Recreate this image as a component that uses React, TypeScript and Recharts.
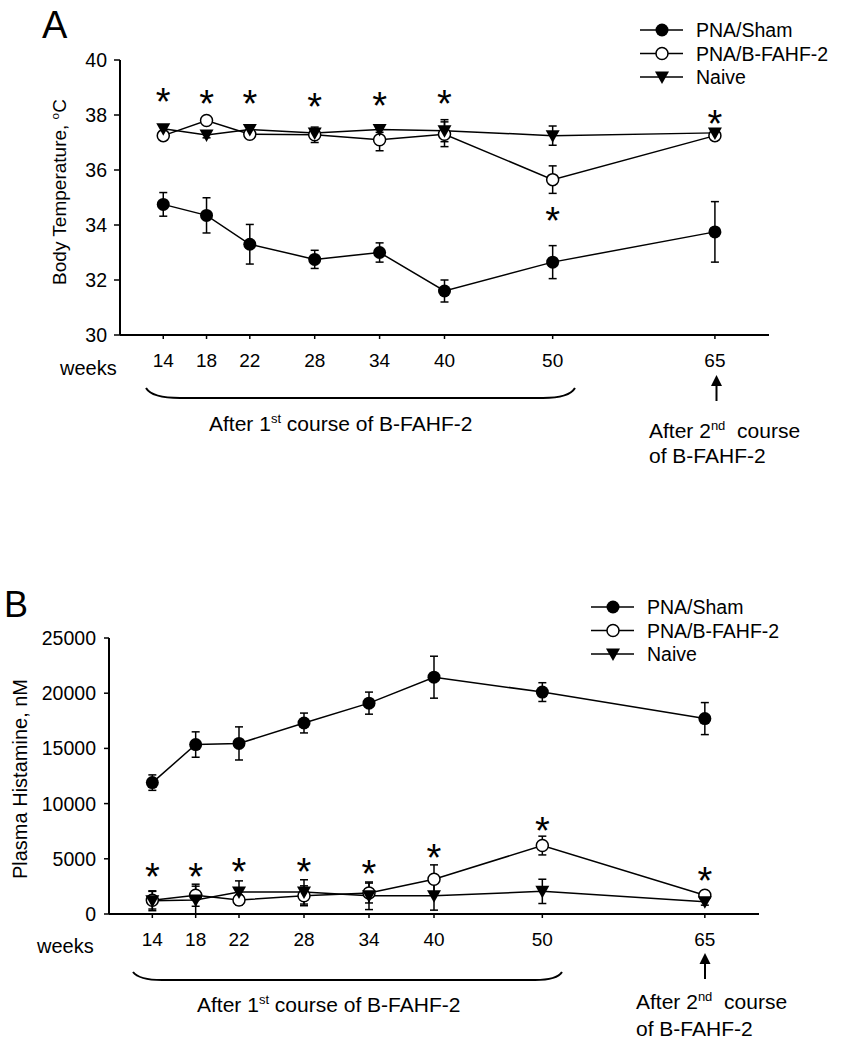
import React from "react";
import { ComposedChart, Line, XAxis, YAxis, ErrorBar } from "recharts";

// sampling weeks
const WEEKS = [14, 18, 22, 28, 34, 40, 50, 65];

// panel A - body temperature (oC)
const tempSham = [34.75, 34.35, 33.3, 32.75, 33.0, 31.6, 32.65, 33.75];
const tempShamErr = [0.43, 0.64, 0.72, 0.33, 0.35, 0.4, 0.6, 1.1];
const tempVacc = [37.25, 37.8, 37.3, 37.28, 37.1, 37.3, 35.65, 37.25];
const tempVaccErr = [0.15, 0.1, 0.1, 0.28, 0.4, 0.45, 0.5, 0.1];
const tempNaive = [37.5, 37.27, 37.47, 37.35, 37.47, 37.43, 37.25, 37.35];
const tempNaiveErr = [0.1, 0.1, 0.1, 0.1, 0.1, 0.4, 0.35, 0.1];
const tempStars = [38.8, 38.73, 38.73, 38.62, 38.65, 38.73, 34.47, 38.0];
const tempTicks = [30, 32, 34, 36, 38, 40];

// panel B - plasma histamine (nM)
const histSham = [11900, 15350, 15450, 17300, 19100, 21450, 20100, 17700];
const histShamErr = [700, 1150, 1500, 900, 1000, 1900, 850, 1450];
const histVacc = [1250, 1700, 1270, 1650, 1900, 3150, 6200, 1700];
const histVaccErr = [800, 1000, 450, 900, 900, 1300, 850, 300];
const histNaive = [1200, 1270, 2000, 2000, 1650, 1650, 2050, 1100];
const histNaiveErr = [900, 1250, 1000, 1100, 1250, 1300, 1100, 300];
const histStars = [4170, 4200, 4620, 4620, 4440, 5890, 8360, 3830];
const histTicks = [0, 5000, 10000, 15000, 20000, 25000];

const SERIES = [
  { key: "sham", name: "PNA/Sham", kind: "filled" },
  { key: "vacc", name: "PNA/B-FAHF-2", kind: "open" },
  { key: "naive", name: "Naive", kind: "triangle" },
];

const FONT = "Arial, 'Liberation Sans', Helvetica, sans-serif";

const buildRows = (
  sham: number[], shamErr: number[],
  vacc: number[], vaccErr: number[],
  naive: number[], naiveErr: number[],
  stars: number[]
) =>
  WEEKS.map((week, i) => ({
    week,
    sham: sham[i], shamErr: shamErr[i],
    vacc: vacc[i], vaccErr: vaccErr[i],
    naive: naive[i], naiveErr: naiveErr[i],
    star: stars[i],
  }));

const rowsA = buildRows(tempSham, tempShamErr, tempVacc, tempVaccErr, tempNaive, tempNaiveErr, tempStars);
const rowsB = buildRows(histSham, histShamErr, histVacc, histVaccErr, histNaive, histNaiveErr, histStars);

const marker = (kind: string, cx: number, cy: number, key?: string) => {
  if (kind === "filled") return <circle key={key} cx={cx} cy={cy} r={6.5} fill="#000" />;
  if (kind === "open")
    return <circle key={key} cx={cx} cy={cy} r={6} fill="#fff" stroke="#000" strokeWidth={1.5} />;
  return (
    <polygon
      key={key}
      points={`${cx - 7},${cy - 5.5} ${cx + 7},${cy - 5.5} ${cx},${cy + 7}`}
      fill="#000"
    />
  );
};

const dotFor = (kind: string) => (props: any) => {
  const { cx, cy, index } = props;
  if (cx == null || cy == null) return <g key={`${kind}-${index}`} />;
  return marker(kind, cx, cy, `${kind}-${index}`);
};

const starDot = (props: any) => {
  const { cx, cy, index } = props;
  if (cx == null || cy == null) return <g key={`s-${index}`} />;
  return (
    <text key={`s-${index}`} x={cx} y={cy + 22} textAnchor="middle" fontSize={38} fontFamily={FONT} fill="#000">
      *
    </text>
  );
};

// legend drawn as plain svg: line x-range, marker centre, text start, first row centre
const LegendSvg = ({ x, y }: { x: number; y: number }) => (
  <g>
    {SERIES.map((s, i) => {
      const cy = y + i * 23.5;
      return (
        <g key={s.key}>
          <line x1={x} y1={cy} x2={x + 43} y2={cy} stroke="#000" strokeWidth={1.5} />
          {marker(s.kind, x + 22, cy)}
          <text x={x + 56} y={cy + 7} fontSize={19.5}>
            {s.name}
          </text>
        </g>
      );
    })}
  </g>
);

interface PanelProps {
  rows: any[];
  top: number;
  height: number;
  margin: { top: number; right: number; bottom: number; left: number };
  yDomain: [number, number];
  yTicks: number[];
  yTickSize: number;
  yTickMargin: number;
}

const Panel: React.FC<PanelProps> = ({ rows, top, height, margin, yDomain, yTicks, yTickSize, yTickMargin }) => (
  <div style={{ position: "absolute", left: 0, top, width: 841, height }}>
    <ComposedChart width={841} height={height} data={rows} margin={margin}>
      <XAxis
        type="number"
        dataKey="week"
        domain={[10, 70]}
        ticks={WEEKS}
        allowDataOverflow
        tickSize={4}
        tickMargin={15}
        axisLine={{ stroke: "#000", strokeWidth: 2 }}
        tickLine={{ stroke: "#000", strokeWidth: 1.5 }}
        tick={{ fill: "#000", fontSize: 19, fontFamily: FONT }}
      />
      <YAxis
        width={60}
        domain={yDomain}
        ticks={yTicks}
        allowDataOverflow
        tickSize={yTickSize}
        tickMargin={yTickMargin}
        axisLine={{ stroke: "#000", strokeWidth: 2 }}
        tickLine={{ stroke: "#000", strokeWidth: 1.5 }}
        tick={{ fill: "#000", fontSize: 19.5, fontFamily: FONT }}
      />
      {SERIES.map((s) => (
        <Line
          key={s.key}
          dataKey={s.key}
          name={s.name}
          stroke="#000"
          strokeWidth={1.5}
          dot={dotFor(s.kind)}
          activeDot={false}
          isAnimationActive={false}
        >
          <ErrorBar dataKey={`${s.key}Err`} direction="y" width={4} stroke="#000" strokeWidth={1.5} />
        </Line>
      ))}
      <Line
        dataKey="star"
        stroke="none"
        legendType="none"
        dot={starDot}
        activeDot={false}
        isAnimationActive={false}
      />
    </ComposedChart>
  </div>
);

const Sup = ({ text, size }: { text: string; size: number }) => (
  <tspan fontSize={size * 0.62} dy={-size * 0.38}>
    {text}
  </tspan>
);

const Annotations = () => (
  <svg
    width={841}
    height={1050}
    style={{ position: "absolute", left: 0, top: 0, pointerEvents: "none" }}
    fontFamily={FONT}
    fill="#000"
  >
    {/* panel A */}
    <text x={42} y={38} fontSize={38}>A</text>
    <LegendSvg x={640} y={30} />
    <text x={66} y={192} fontSize={19} textAnchor="middle" transform="rotate(-90 66 192)">
      Body Temperature,{" "}
      <Sup text="o" size={19} />
      <tspan dy={19 * 0.38}>C</tspan>
    </text>
    <text x={60} y={375} fontSize={20}>weeks</text>
    <path d="M146,388 Q152,398 180,398 L543,398 Q569,398 575,388" fill="none" stroke="#000" strokeWidth={2} />
    <text x={209} y={431} fontSize={21}>
      After 1<Sup text="st" size={21} />
      <tspan dy={21 * 0.38}> course of B-FAHF-2</tspan>
    </text>
    <line x1={716.5} y1={401} x2={716.5} y2={384} stroke="#000" strokeWidth={2} />
    <polygon points="716.5,375 711,386 722,386" fill="#000" />
    <text x={649} y={438} fontSize={21}>
      After 2<Sup text="nd" size={21} />
      <tspan dy={21 * 0.38}>{"\u00a0 course"}</tspan>
    </text>
    <text x={649} y={463} fontSize={21}>of B-FAHF-2</text>

    {/* panel B */}
    <text x={4} y={617} fontSize={36}>B</text>
    <LegendSvg x={591} y={607} />
    <text x={27} y={779} fontSize={20} textAnchor="middle" transform="rotate(-90 27 779)">
      Plasma Histamine, nM
    </text>
    <text x={37} y={953} fontSize={20}>weeks</text>
    <path d="M133,972 Q139,980 162,980 L535,980 Q557,980 562,972" fill="none" stroke="#000" strokeWidth={2} />
    <text x={197} y={1012} fontSize={21}>
      After 1<Sup text="st" size={21} />
      <tspan dy={21 * 0.38}> course of B-FAHF-2</tspan>
    </text>
    <line x1={705} y1={979} x2={705} y2={962} stroke="#000" strokeWidth={2} />
    <polygon points="705,953 699.5,964 710.5,964" fill="#000" />
    <text x={636} y={1009} fontSize={21}>
      After 2<Sup text="nd" size={21} />
      <tspan dy={21 * 0.38}>{"\u00a0 course"}</tspan>
    </text>
    <text x={636} y={1036} fontSize={21}>of B-FAHF-2</text>
  </svg>
);

export default function App() {
  return (
    <div style={{ position: "absolute", left: 0, top: 0, width: 841, height: 1050, background: "#fff" }}>
      <Panel
        rows={rowsA}
        top={0}
        height={400}
        margin={{ top: 60, right: 72, bottom: 35, left: 60 }}
        yDomain={[30, 40]}
        yTicks={tempTicks}
        yTickSize={6}
        yTickMargin={7}
      />
      <Panel
        rows={rowsB}
        top={560}
        height={420}
        margin={{ top: 78, right: 82, bottom: 36, left: 49 }}
        yDomain={[0, 25000]}
        yTicks={histTicks}
        yTickSize={5}
        yTickMargin={8}
      />
      <Annotations />
    </div>
  );
}
